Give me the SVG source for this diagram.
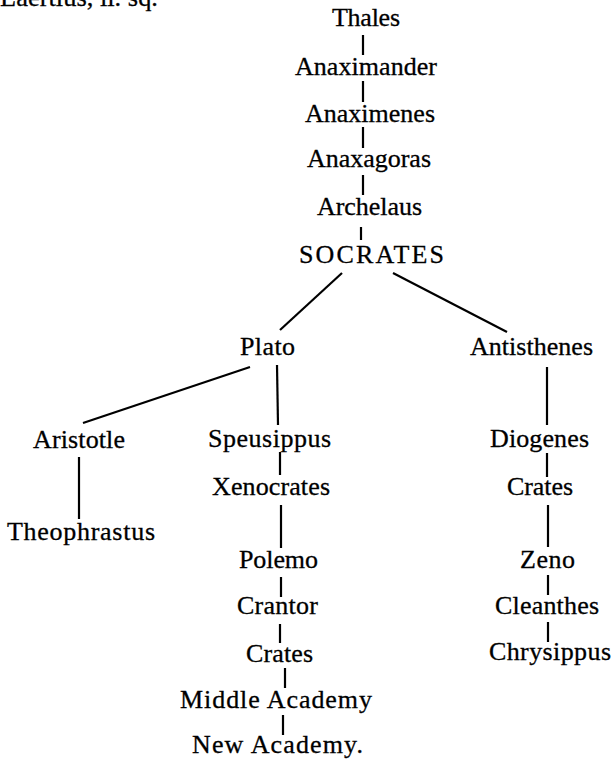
<svg xmlns="http://www.w3.org/2000/svg" width="612" height="764" viewBox="0 0 612 764">
<style>
text{font-family:'Liberation Serif','Times New Roman',serif;font-size:26px;fill:#000;stroke:#000;stroke-width:0.3;}
.l{stroke:#000;stroke-width:2.2;fill:none;stroke-linecap:butt;}
</style>
<rect width="612" height="764" fill="#fff"/>
<text id="header" x="0" y="6" textLength="158" lengthAdjust="spacingAndGlyphs">Laertius, ii. sq.</text>
<g id="connectors">
<line class="l" x1="363" y1="35" x2="363" y2="55"/>
<line class="l" x1="363" y1="81" x2="363" y2="102"/>
<line class="l" x1="363" y1="127" x2="363" y2="148"/>
<line class="l" x1="363" y1="175" x2="363" y2="195"/>
<line class="l" x1="361" y1="227" x2="361" y2="240"/>
<line class="l" x1="342" y1="273" x2="280" y2="330"/>
<line class="l" x1="393" y1="273" x2="507" y2="332"/>
<line class="l" x1="250" y1="367" x2="83" y2="423"/>
<line class="l" x1="277" y1="365" x2="278" y2="425"/>
<line class="l" x1="547" y1="367" x2="547" y2="425"/>
<line class="l" x1="79" y1="457" x2="79" y2="519"/>
<line class="l" x1="280" y1="452" x2="280" y2="475"/>
<line class="l" x1="281" y1="505" x2="281" y2="548"/>
<line class="l" x1="281" y1="577" x2="281" y2="597"/>
<line class="l" x1="280" y1="624" x2="280" y2="643"/>
<line class="l" x1="285" y1="668" x2="285" y2="688"/>
<line class="l" x1="283" y1="715" x2="283" y2="735"/>
<line class="l" x1="547" y1="453" x2="547" y2="477"/>
<line class="l" x1="548" y1="505" x2="548" y2="547"/>
<line class="l" x1="548" y1="575" x2="548" y2="595"/>
<line class="l" x1="548" y1="622" x2="548" y2="642"/>
</g>
<g id="thales"><text x="332" y="26" textLength="68">Thales</text></g>
<g id="anaximander"><text x="295" y="75" textLength="142">Anaximander</text></g>
<g id="anaximenes"><text x="305" y="122" textLength="130">Anaximenes</text></g>
<g id="anaxagoras"><text x="307" y="167" textLength="124">Anaxagoras</text></g>
<g id="archelaus"><text x="317" y="215" textLength="105">Archelaus</text></g>
<g id="socrates"><text x="299" y="263" textLength="145">SOCRATES</text></g>
<g id="plato"><text x="240" y="355" textLength="55">Plato</text></g>
<g id="antisthenes"><text x="470" y="355" textLength="123">Antisthenes</text></g>
<g id="aristotle"><text x="33" y="448" textLength="92">Aristotle</text></g>
<g id="theophrastus"><text x="7" y="540" textLength="148">Theophrastus</text></g>
<g id="speusippus"><text x="208" y="447" textLength="123">Speusippus</text></g>
<g id="xenocrates"><text x="212" y="495" textLength="118">Xenocrates</text></g>
<g id="polemo"><text x="239" y="568" textLength="79">Polemo</text></g>
<g id="crantor"><text x="237" y="614" textLength="81">Crantor</text></g>
<g id="crates-academy"><text x="246" y="662" textLength="67">Crates</text></g>
<g id="middle-academy"><text x="180" y="708" textLength="192">Middle  Academy</text></g>
<g id="new-academy"><text x="192" y="753" textLength="171">New  Academy.</text></g>
<g id="diogenes"><text x="490" y="447" textLength="99">Diogenes</text></g>
<g id="crates-cynic"><text x="507" y="495" textLength="66">Crates</text></g>
<g id="zeno"><text x="520" y="568" textLength="55">Zeno</text></g>
<g id="cleanthes"><text x="495" y="614" textLength="104">Cleanthes</text></g>
<g id="chrysippus"><text x="489" y="660" textLength="122">Chrysippus</text></g>
</svg>
